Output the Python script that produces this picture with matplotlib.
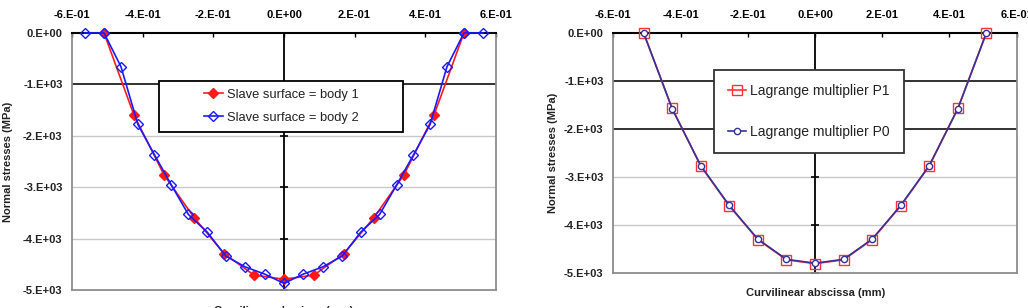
import matplotlib
matplotlib.use("Agg")
import matplotlib.pyplot as plt
from matplotlib.patches import Rectangle

plt.rcParams['font.family'] = ['Liberation Sans', 'DejaVu Sans']

# ---- data ----
x_body1 = [-0.51, -0.425, -0.34, -0.255, -0.17, -0.085, 0.0, 0.085, 0.17, 0.255, 0.34, 0.425, 0.51]
y_body1 = [0, -1600, -2760, -3590, -4290, -4710, -4790, -4710, -4290, -3590, -2760, -1600, 0]

x_body2 = [-0.565, -0.51, -0.462, -0.414, -0.367, -0.319, -0.271, -0.218, -0.165, -0.11, -0.055, 0.0,
           0.055, 0.11, 0.165, 0.218, 0.271, 0.319, 0.367, 0.414, 0.462, 0.51, 0.565]
y_body2 = [0, 0, -655, -1780, -2370, -2960, -3530, -3870, -4340, -4550, -4690, -4870,
           -4690, -4550, -4340, -3870, -3530, -2960, -2370, -1780, -655, 0, 0]

x_lag = [-0.51, -0.425, -0.34, -0.255, -0.17, -0.085, 0.0, 0.085, 0.17, 0.255, 0.34, 0.425, 0.51]
y_p1 = [0, -1570, -2770, -3600, -4300, -4720, -4800, -4720, -4300, -3600, -2770, -1570, 0]
y_p0 = [0, -1580, -2760, -3590, -4290, -4710, -4790, -4710, -4290, -3590, -2760, -1580, 0]

xticks = [-0.6, -0.4, -0.2, 0.0, 0.2, 0.4, 0.6]
xtick_labels = ["-6.E-01", "-4.E-01", "-2.E-01", "0.E+00", "2.E-01", "4.E-01", "6.E-01"]
yticks = [0, -1000, -2000, -3000, -4000, -5000]
ytick_labels = ["0.E+00", "-1.E+03", "-2.E+03", "-3.E+03", "-4.E+03", "-5.E+03"]

fig = plt.figure(figsize=(10.28, 3.08), dpi=100)

def style_axes(ax, dark_grid):
    ax.set_xlim(-0.6, 0.6)
    ax.set_ylim(-5000, 0)
    ax.set_xticks(xticks)
    ax.set_xticklabels(xtick_labels, fontsize=8, fontweight='bold', color='#222222')
    ax.set_yticks(yticks)
    ax.set_yticklabels(ytick_labels, fontsize=8, fontweight='bold', color='#222222')
    ax.xaxis.tick_top()
    ax.tick_params(axis='x', direction='in', length=3, width=1, colors='black', pad=9)
    ax.tick_params(axis='y', length=0, pad=7)
    for yv in yticks[1:-1]:
        if yv in dark_grid:
            ax.axhline(yv, color='#222222', lw=1.3, zorder=1)
        else:
            ax.axhline(yv, color='#c8c8c8', lw=1.0, zorder=1)
    ax.axvline(0, color='black', lw=1.3, zorder=1)
    ax.plot([0] * len(yticks), yticks, ls='none', marker='_', ms=6, mew=1.2, color='black', zorder=1, clip_on=False)
    for s in ['left', 'bottom', 'right']:
        ax.spines[s].set_color('#8c8c8c')
        ax.spines[s].set_linewidth(1.3)
    ax.spines['top'].set_color('black')
    ax.spines['top'].set_linewidth(1.5)

def boxed_legend(ax, x0, y0, x1, y1, fontsize, labelspacing, handlelength, edge):
    rect = Rectangle((x0, y0), x1 - x0, y1 - y0, transform=ax.transAxes, facecolor='white',
                     edgecolor=edge, lw=1.3, zorder=5)
    ax.add_patch(rect)
    leg = ax.legend(loc='center', bbox_to_anchor=((x0 + x1) / 2, (y0 + y1) / 2), fontsize=fontsize,
                    frameon=False, labelspacing=labelspacing, handlelength=handlelength,
                    handletextpad=0.3, borderpad=0, borderaxespad=0)
    leg.set_zorder(6)
    for t in leg.get_texts():
        t.set_color('#222222')
    return leg

# ---- left chart ----
ax1 = fig.add_axes([0.0703, 0.0584, 0.4119, 0.8345])
style_axes(ax1, dark_grid=[-1000])
ax1.plot(x_body1, y_body1, color='#ff1a1a', lw=1.2, marker='D', ms=5.5, mfc='#ff1a1a', mec='#ff1a1a', zorder=3,
         label='Slave surface = body 1', clip_on=False)
ax1.plot(x_body2, y_body2, color='#1a1aff', lw=1.2, marker='D', ms=5, mfc='none', mec='#1a1aff', mew=1.0, zorder=4,
         label='Slave surface = body 2', clip_on=False)
boxed_legend(ax1, 0.204, 0.616, 0.782, 0.813, 9.3, 0.85, 1.5, 'black')
fig.text(0.0078, 0.476, 'Normal stresses (MPa)', rotation=90, va='center', ha='center', fontsize=8, fontweight='bold',
         color='#222222')
fig.text(0.276, 0.008, 'Curvilinear abscissa (mm)', va='top', ha='center', fontsize=8, fontweight='bold',
         color='#222222')

# ---- right chart ----
ax2 = fig.add_axes([0.5966, 0.1127, 0.3924, 0.7811])
style_axes(ax2, dark_grid=[-1000, -2000])
ax2.plot(x_lag, y_p1, color='#ff3333', lw=1.2, marker='s', ms=7.5, mfc='none', mec='#ff3333', mew=1.0, zorder=3,
         label='Lagrange multiplier P1', clip_on=False)
ax2.plot(x_lag, y_p0, color='#333399', lw=1.2, marker='o', ms=4.5, mfc='white', mec='#333399', mew=1.0, zorder=4,
         label='Lagrange multiplier P0', clip_on=False)
boxed_legend(ax2, 0.2496, 0.499, 0.7214, 0.845, 10, 1.95, 1.3, '#333333')
fig.text(0.538, 0.503, 'Normal stresses (MPa)', rotation=90, va='center', ha='center', fontsize=8, fontweight='bold',
         color='#222222')
fig.text(0.793, 0.0476, 'Curvilinear abscissa (mm)', va='center', ha='center', fontsize=8, fontweight='bold',
         color='#222222')

fig.savefig('out.png', dpi=100)
